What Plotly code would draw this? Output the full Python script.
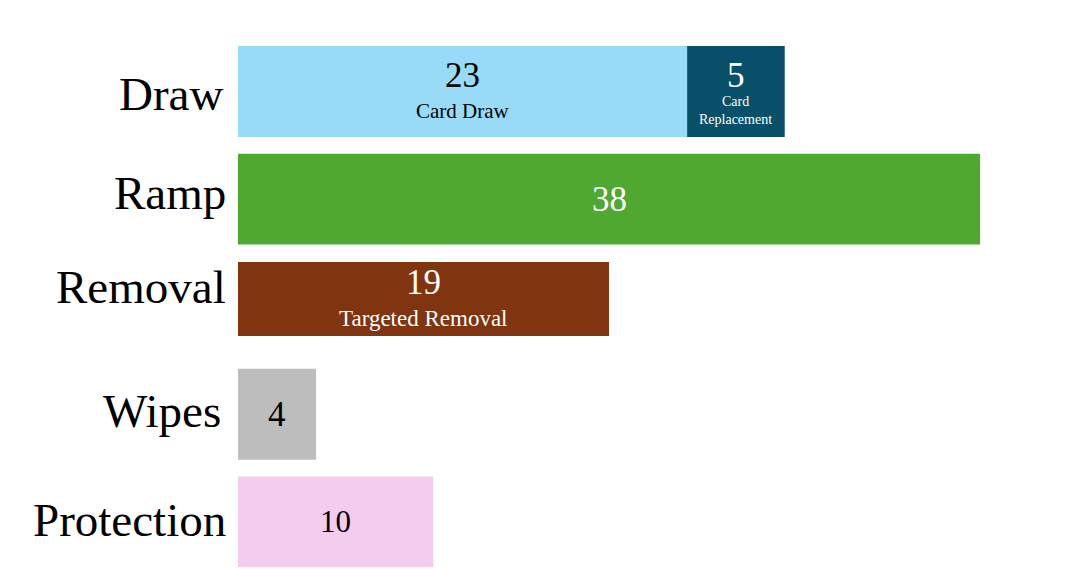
import plotly.graph_objects as go

# ---- data ----
categories = ["Draw", "Ramp", "Removal", "Wipes", "Protection"]
seg_category = ["Draw", "Draw", "Ramp", "Removal", "Wipes", "Protection"]
seg_values = [23, 5, 38, 19, 4, 10]
seg_sublabels = ["Card Draw", "Card<br>Replacement", "", "Targeted Removal", "", ""]

# ---- styles ----
seg_colors = ["#97DBF7", "#085069", "#4FA830", "#803410", "#BDBDBD", "#F2CDEF"]
seg_text_colors = ["#000000", "#FFFFFF", "#FFFFFF", "#FFFFFF", "#000000", "#000000"]
seg_num_sizes = [35, 35, 35, 35, 35, 31]
seg_sub_sizes = [21, 14, 0, 23, 0, 0]
bar_width = [0.845, 0.845, 0.845, 0.687, 0.845, 0.845]
bar_offset = [-0.4225, -0.4225, -0.4225, -0.415, -0.4225, -0.4225]
label_yshift = [-3, 6, 20, 3, 2]
label_xshift = [-13, -10, -10, -15, -10]

FONT = "Liberation Serif"

fig = go.Figure()
annotations = []
cum = {c: 0 for c in categories}
for i, (cat, val) in enumerate(zip(seg_category, seg_values)):
    pos = categories.index(cat)
    base = cum[cat]
    cum[cat] += val
    fig.add_trace(go.Bar(
        orientation="h", x=[val], y=[pos], base=[base],
        width=[bar_width[i]], offset=[bar_offset[i]],
        marker=dict(color=seg_colors[i], line=dict(width=0)),
        hoverinfo="skip", showlegend=False,
    ))
    yc = pos + bar_offset[i] + bar_width[i] / 2
    xc = base + val / 2
    has_sub = seg_sublabels[i] != ""
    annotations.append(dict(
        x=xc, y=yc, xref="x", yref="y", text=str(val), showarrow=False,
        yshift=16 if has_sub else 0,
        font=dict(family=FONT, size=seg_num_sizes[i], color=seg_text_colors[i]),
        xanchor="center", yanchor="middle",
    ))
    if has_sub:
        annotations.append(dict(
            x=xc, y=yc, xref="x", yref="y", text=seg_sublabels[i], showarrow=False,
            yshift=-19.5,
            font=dict(family=FONT, size=seg_sub_sizes[i], color=seg_text_colors[i]),
            xanchor="center", yanchor="middle",
        ))

for j, cat in enumerate(categories):
    annotations.append(dict(
        x=0, y=j, xref="paper", yref="y", text=cat, showarrow=False,
        xanchor="right", yanchor="middle", xshift=label_xshift[j], yshift=label_yshift[j],
        font=dict(family=FONT, size=47, color="#000000"),
    ))

fig.update_layout(
    width=1070, height=561,
    margin=dict(l=230, r=98, t=0, b=0),
    barmode="overlay",
    paper_bgcolor="white", plot_bgcolor="white",
    xaxis=dict(range=[0, 38], visible=False, fixedrange=True),
    yaxis=dict(range=[4.438, -0.776], visible=False, fixedrange=True),
    annotations=annotations,
)

fig.write_html("out.html")
